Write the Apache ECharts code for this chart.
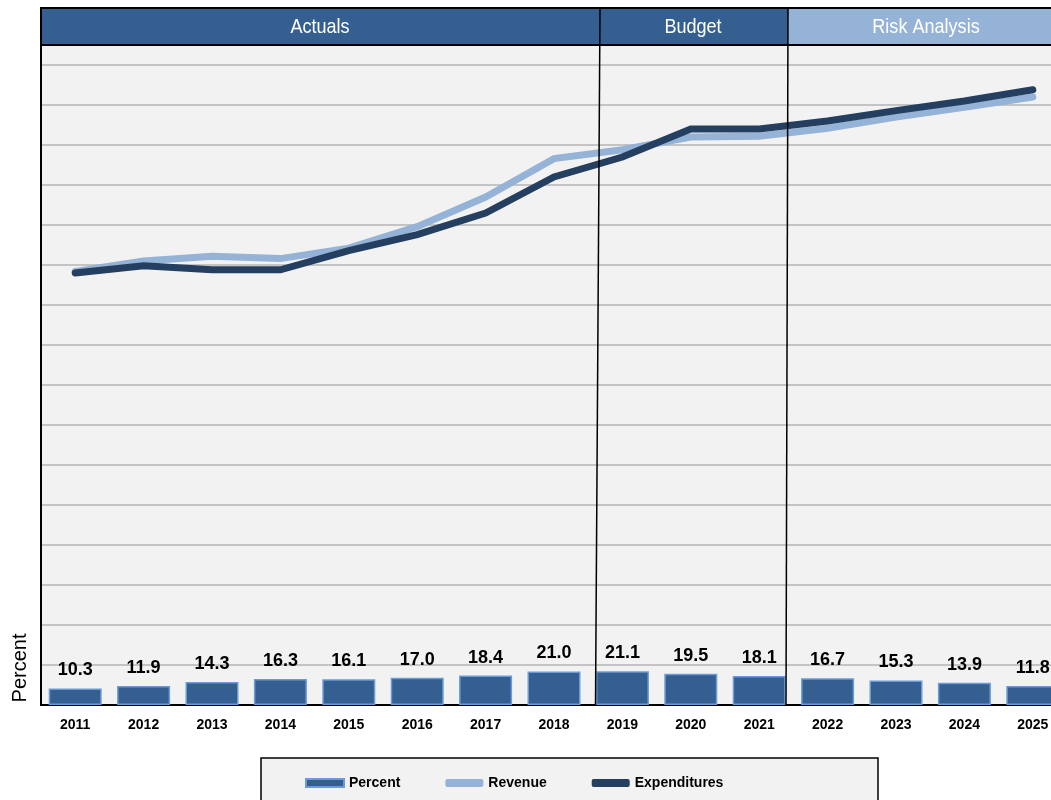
<!DOCTYPE html>
<html>
<head>
<meta charset="utf-8">
<script src="https://cdn.jsdelivr.net/npm/echarts@6/dist/echarts.min.js"></script>
<style>
  html, body { margin: 0; padding: 0; background: #fff; overflow: hidden; }
  /* the reference plot runs past the right edge of the picture */
  #main { width: 1067px; height: 800px; }
</style>
</head>
<body>
<div id="main"></div>
<script>
// categories
const years = ['2011','2012','2013','2014','2015','2016','2017','2018','2019','2020','2021','2022','2023','2024','2025'];
// percent bars
const percent = [10.3, 11.9, 14.3, 16.3, 16.1, 17.0, 18.4, 21.0, 21.1, 19.5, 18.1, 16.7, 15.3, 13.9, 11.8];
const revenue = [542, 555, 561, 558, 571, 598, 635, 683, 694, 710, 711, 721, 735, 747, 760];
const expenditures = [540, 549, 544, 544, 568, 588, 615, 660, 685, 720, 720, 730, 743, 755, 769];
// header sections
const sections = ['Actuals', 'Budget', 'Risk Analysis'];

const DARK = '#365f91';
const LIGHT = '#95b3d7';
const LINE_DARK = '#243f60';
const FONT = '"Liberation Sans", Arial, sans-serif';

const myChart = echarts.init(document.getElementById('main'), null, { renderer: 'canvas' });

// header text is a condensed face in the reference, squeeze it a bit
const headerText = (txt, x) => ({
  type: 'text', z: 102, x: x, y: 27, scaleX: 0.86,
  style: { text: txt, fill: '#fff', font: '21px ' + FONT, align: 'center', verticalAlign: 'middle' }
});

const option = {
  animation: false,
  backgroundColor: '#ffffff',
  textStyle: { fontFamily: FONT },
  grid: {
    left: 41,
    top: 25,
    right: 0,
    height: 680,
    show: true,
    backgroundColor: '#f2f2f2',
    borderWidth: 0,
    containLabel: false
  },
  legend: {
    left: 300,
    top: 771,
    itemWidth: 38,
    itemHeight: 8,
    itemGap: 45,
    textStyle: { fontFamily: FONT, fontWeight: 'bold', fontSize: 14, color: '#000' },
    data: [
      { name: 'Percent', icon: 'rect' },
      { name: 'Revenue', icon: 'roundRect' },
      { name: 'Expenditures', icon: 'roundRect' }
    ]
  },
  xAxis: {
    type: 'category',
    data: years,
    boundaryGap: true,
    axisLine: { show: true, lineStyle: { color: '#000', width: 2 } },
    axisTick: { show: false },
    axisLabel: {
      margin: 13,
      fontFamily: FONT,
      fontWeight: 'bold',
      fontSize: 14,
      color: '#000'
    },
    splitLine: { show: false }
  },
  yAxis: [
    {
      type: 'value',
      min: 0,
      max: 850,
      interval: 50,
      axisLine: { show: true, lineStyle: { color: '#000', width: 2 } },
      axisTick: { show: false },
      axisLabel: { show: false },
      splitLine: { show: true, lineStyle: { color: '#c4c4c4', width: 2 } }
    },
    {
      type: 'value',
      min: 0,
      max: 425,
      interval: 25,
      axisLine: { show: false },
      axisTick: { show: false },
      axisLabel: { show: false },
      splitLine: { show: false }
    }
  ],
  series: [
    {
      name: 'Percent',
      type: 'bar',
      yAxisIndex: 1,
      data: percent,
      barWidth: 53,
      itemStyle: { color: DARK, borderColor: '#6a9bd8', borderWidth: 1.5 },
      label: {
        show: true,
        position: 'top',
        distance: 9,
        formatter: (p) => p.value.toFixed(1),
        fontFamily: FONT,
        fontWeight: 'bold',
        fontSize: 18,
        color: '#000'
      },
      z: 3
    },
    {
      name: 'Revenue',
      type: 'line',
      data: revenue,
      showSymbol: false,
      symbol: 'none',
      lineStyle: { color: LIGHT, width: 7, cap: 'round', join: 'miter' },
      itemStyle: { color: LIGHT },
      z: 4
    },
    {
      name: 'Expenditures',
      type: 'line',
      data: expenditures,
      showSymbol: false,
      symbol: 'none',
      lineStyle: { color: LINE_DARK, width: 7, cap: 'round', join: 'miter' },
      itemStyle: { color: LINE_DARK },
      z: 5
    }
  ],
  graphic: [
    // header bands
    { type: 'rect', z: 100, shape: { x: 41, y: 8, width: 559, height: 37 }, style: { fill: DARK } },
    { type: 'rect', z: 100, shape: { x: 600, y: 8, width: 188, height: 37 }, style: { fill: DARK } },
    { type: 'rect', z: 100, shape: { x: 788, y: 8, width: 280, height: 37 }, style: { fill: LIGHT } },
    { type: 'rect', z: 101, shape: { x: 41, y: 8, width: 1030, height: 37 }, style: { fill: null, stroke: '#000', lineWidth: 2 } },
    headerText(sections[0], 320),
    headerText(sections[1], 693),
    headerText(sections[2], 926),
    // section dividers
    { type: 'line', z: 101, shape: { x1: 600, y1: 8, x2: 595.5, y2: 705 }, style: { stroke: '#000', lineWidth: 1.5 } },
    { type: 'line', z: 101, shape: { x1: 788, y1: 8, x2: 786, y2: 705 }, style: { stroke: '#000', lineWidth: 1.5 } },
    // y axis title
    { type: 'text', z: 102, x: 20, y: 668, rotation: Math.PI / 2, style: { text: 'Percent', fill: '#000', font: '20px ' + FONT, align: 'center', verticalAlign: 'middle' } },
    // legend frame
    { type: 'rect', z: -1, shape: { x: 261, y: 758, width: 617, height: 60 }, style: { fill: '#f2f2f2', stroke: '#000', lineWidth: 1.5 } }
  ]
};

option && myChart.setOption(option);
</script>
</body>
</html>
